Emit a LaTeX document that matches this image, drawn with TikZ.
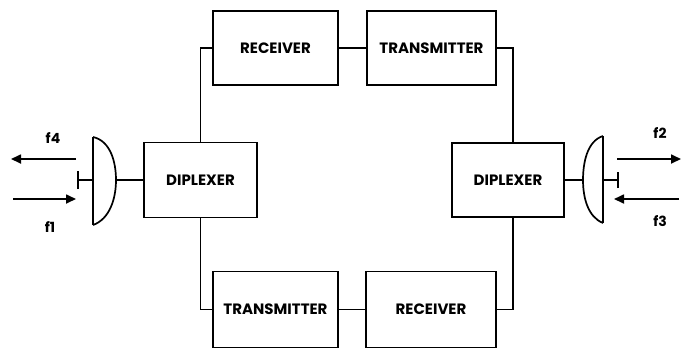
\documentclass[tikz,border=0pt]{standalone}
\usepackage{fontspec}
\setmainfont{Poppins}[BoldFont={Poppins Bold}]
\usetikzlibrary{arrows.meta,calc}
\tikzset{
  blk/.style={draw,line width=1.7pt,minimum height=74pt,inner sep=0pt,font=\bfseries\fontsize{15}{16}\selectfont},
  wire/.style={line width=1.7pt},
  sig/.style={line width=1.7pt,-{Triangle[length=10pt,width=9pt]}},
  lbl/.style={font=\bfseries\fontsize{14}{14}\selectfont},
}
\begin{document}
\begin{tikzpicture}[x=1pt,y=-1pt]
\useasboundingbox (0,0) rectangle (687,349);
% boxes
\node[blk,minimum width=125pt] (rxT) at (275.5,48) {RECEIVER};
\node[blk,minimum width=129pt] (txT) at (431.5,48) {TRANSMITTER};
\node[blk,minimum width=125pt,minimum height=76pt] (txB) at (275.5,309.5) {TRANSMITTER};
\node[blk,minimum width=130pt,minimum height=76pt] (rxB) at (431,309.5) {RECEIVER};
\node[blk,minimum width=113pt,minimum height=75pt] (dL) at (200.5,180) {DIPLEXER};
\node[blk,minimum width=112pt,minimum height=74pt] (dR) at (508,180) {DIPLEXER};
% connectors
\draw[wire] (rxT) -- (txT);
\draw[wire] (txB) -- (rxB);
\draw[wire] (rxT.west) -| (dL.north);
\draw[wire] (txB.west) -| (dL.south);
\draw[wire] (txT.east) -| ([xshift=5pt]dR.north);
\draw[wire] (rxB.east) -| ([xshift=5pt]dR.south);
% left antenna
\coordinate (aLt) at (93,137);
\coordinate (aLb) at (93,225);
\coordinate (aLf) at (116,180);
\coordinate (aLs) at (93,180);
\coordinate (aLe) at (78,180);
\draw[wire] (aLt) .. controls (111,141) and (116,163) .. (aLf) .. controls (116,198) and (110,219) .. (aLb);
\draw[wire] (aLt) -- (aLb);
\draw[wire] (aLs) -- (aLe);
\draw[wire] ([yshift=-9pt]aLe) -- ([yshift=9pt]aLe);
\draw[wire] (aLf) -- (dL.west);
% right antenna
\coordinate (aRt) at (603,136);
\coordinate (aRb) at (603,223);
\coordinate (aRf) at (583,180);
\coordinate (aRs) at (603,180);
\coordinate (aRe) at (618,180);
\draw[wire] (aRt) .. controls (587,141) and (583,163) .. (aRf) .. controls (583,198) and (588,217) .. (aRb);
\draw[wire] (aRt) -- (aRb);
\draw[wire] (aRs) -- (aRe);
\draw[wire] ([yshift=-8pt]aRe) -- ([yshift=8pt]aRe);
\draw[wire] (aRf) -- (dR.east);
% signals
\coordinate (f4s) at (76,159); \coordinate (f4e) at (11,159);
\coordinate (f1s) at (13,199); \coordinate (f1e) at (76,199);
\coordinate (f2s) at (617,159); \coordinate (f2e) at (681,159);
\coordinate (f3s) at (679,199); \coordinate (f3e) at (614,199);
\draw[sig] (f4s) -- (f4e);
\draw[sig] (f1s) -- (f1e);
\draw[sig] (f2s) -- (f2e);
\draw[sig] (f3s) -- (f3e);
\node[lbl] (l4) at (53,138) {f4};
\node[lbl] (l1) at (50,227) {f1};
\node[lbl] (l2) at (660,133) {f2};
\node[lbl] (l3) at (660,221) {f3};
\end{tikzpicture}
\end{document}
